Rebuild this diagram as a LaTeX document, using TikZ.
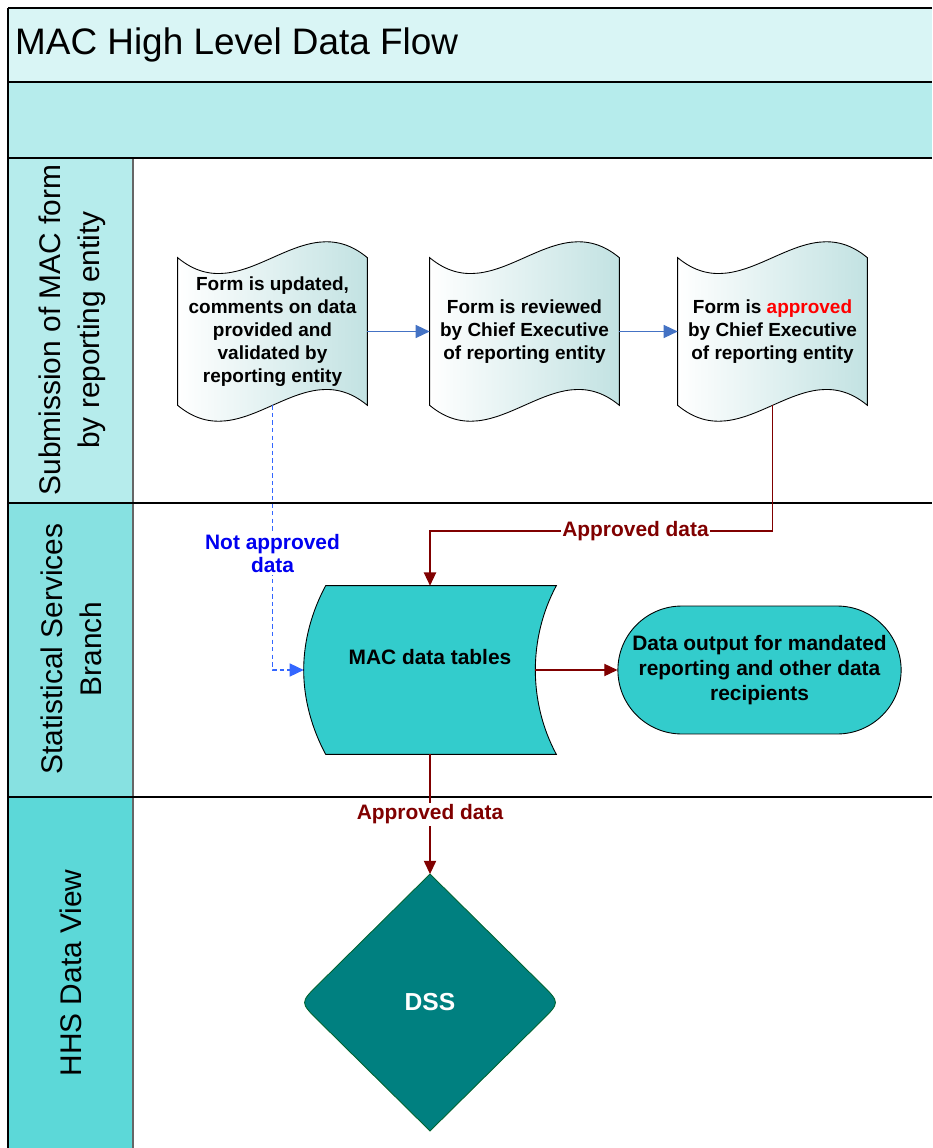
\documentclass[tikz,border=0pt]{standalone}
\usepackage{fontspec}
\setmainfont{Liberation Sans}
\usetikzlibrary{arrows.meta, shapes.geometric, shapes.misc, positioning, backgrounds, calc}
\definecolor{titleband}{RGB}{217,245,245}
\definecolor{laneA}{RGB}{182,236,236}
\definecolor{laneB}{RGB}{135,225,225}
\definecolor{laneC}{RGB}{92,216,216}
\definecolor{procteal}{RGB}{51,204,204}
\definecolor{tapeR}{RGB}{194,226,226}
\definecolor{dssteal}{RGB}{0,128,128}
\definecolor{dssedge}{RGB}{0,100,50}
\definecolor{flowblue}{RGB}{68,114,196}
\definecolor{rejblue}{RGB}{51,102,255}
\definecolor{rejtext}{RGB}{0,0,240}
\definecolor{okred}{RGB}{128,0,0}

\begin{document}
\begin{tikzpicture}[x=0.02cm, y=0.02cm,
    lane/.style={font=\fontsize{17}{22}\selectfont, rotate=90, align=center},
    doc/.style={minimum width=3.78cm, minimum height=2.94cm, align=center,
                font=\bfseries\fontsize{10.8}{13}\selectfont},
    tapeline/.style={draw=black, line width=0.5pt, left color=white, right color=tapeR},
    store/.style={draw=black, line width=0.5pt, fill=procteal},
    term/.style={rounded rectangle, draw=black, line width=0.5pt, fill=procteal,
                 minimum width=5.9cm, minimum height=2.56cm, align=center,
                 font=\bfseries\fontsize{11.9}{14.2}\selectfont},
    arr/.style={-{Triangle[length=8pt, width=7.5pt]}, line width=0.6pt, flowblue},
    ok/.style={-{Triangle[length=7.5pt, width=7pt]}, line width=0.6pt, okred},
    rej/.style={-{Triangle[length=8pt, width=7.5pt]}, line width=0.6pt, rejblue,
                dash pattern=on 2.5pt off 1.8pt},
    lbl/.style={font=\bfseries\fontsize{11.9}{13.6}\selectfont, fill=white,
                inner sep=1pt, align=center}
  ]
    \useasboundingbox (0,0) rectangle (932,-1148);

    % Lanes
    \fill[titleband] (8,-8) rectangle (932,-82);
    \fill[laneA] (8,-82) rectangle (932,-158);
    \fill[laneA] (8,-158) rectangle (133,-503);
    \fill[laneB] (8,-503) rectangle (133,-797);
    \fill[laneC] (8,-797) rectangle (133,-1148);
    \draw[black!60, line width=0.6pt] (133,-158) -- (133,-1148);
    \foreach \y in {-8,-82,-158,-503,-797}
      \draw[line width=0.85pt] (8,\y) -- (932,\y);
    \draw[line width=1.1pt] (8,-8) -- (8,-1148);

    \node[anchor=west, font=\fontsize{21}{25}\selectfont] (title) at (9,-45) {MAC High Level Data Flow};
    \node[lane] (lane1) at (72,-330) {Submission of MAC form\\by reporting entity};
    \node[lane] (lane2) at (71,-649) {Statistical Services\\Branch};
    \node[lane] (lane3) at (71,-973) {HHS Data View};

    % Forms
    \node[doc] (d1) at (272.5,-331.5) {Form is updated,\\comments on data\\provided and\\validated by\\reporting entity};
    \node[doc] (d2) at (524.5,-331.5) {Form is reviewed\\by Chief Executive\\of reporting entity};
    \node[doc] (d3) at (772.5,-331.5) {Form is \textcolor{red}{approved}\\by Chief Executive\\of reporting entity};

    % Data tables, output, DSS
    \node[minimum width=5.04cm, minimum height=3.36cm] (tables) at (430,-670) {};
    \node[font=\bfseries\fontsize{11.9}{14}\selectfont] (tablesname) at (430,-657) {MAC data tables};
    \coordinate (tablesR) at ($(tables.east)+(-21,0)$);
    \node[term] (output) at (759.5,-670) {Data output for mandated\\reporting and other data\\recipients};
    \node[diamond, minimum width=5.2cm, minimum height=5.14cm, outer sep=0pt, text=white,
          font=\bfseries\fontsize{14}{16}\selectfont] (dss) at (430,-1002.5) {DSS};

    \begin{scope}[on background layer]
      \foreach \d in {d1,d2,d3}
        \draw[tapeline] (\d.north west) .. controls +(66,-55) and +(-66,55) .. (\d.north east)
          -- (\d.south east) .. controls +(-66,55) and +(66,-55) .. (\d.south west) -- cycle;
      \draw[store] ($(tables.north west)+(22,0)$) .. controls +(-14,-26) and +(0,29) .. (tables.west)
        .. controls +(0,-29) and +(-14,26) .. ($(tables.south west)+(22,0)$) -- (tables.south east)
        .. controls +(-14,26) and +(0,-29) .. (tablesR)
        .. controls +(0,29) and +(-14,-26) .. (tables.north east) -- cycle;
      \draw[fill=dssteal, draw=dssedge, line width=0.5pt] (dss.north)
        -- ($(dss.east)!0.14!(dss.north)$) .. controls (dss.east) .. ($(dss.east)!0.14!(dss.south)$)
        -- (dss.south)
        -- ($(dss.west)!0.14!(dss.south)$) .. controls (dss.west) .. ($(dss.west)!0.14!(dss.north)$)
        -- cycle;
    \end{scope}

    % Flow arrows
    \foreach \a/\b in {d1/d2, d2/d3}
      \draw[arr] (\a) -- (\b);

    \coordinate (apprbend) at (430,-531);
    \draw[ok] (d3.south) |- (apprbend) node[lbl, pos=0.7] {Approved data} -- (tables.north);
    \draw[rej] (d1.south) |- (tables.west) node[lbl, pos=0.28, text=rejtext] {Not approved\\data};
    \draw[ok] (tablesR) -- (output.west);
    \draw[ok] (tables.south) -- (dss.north) node[lbl, midway] {Approved data};

  \end{tikzpicture}
\end{document}
